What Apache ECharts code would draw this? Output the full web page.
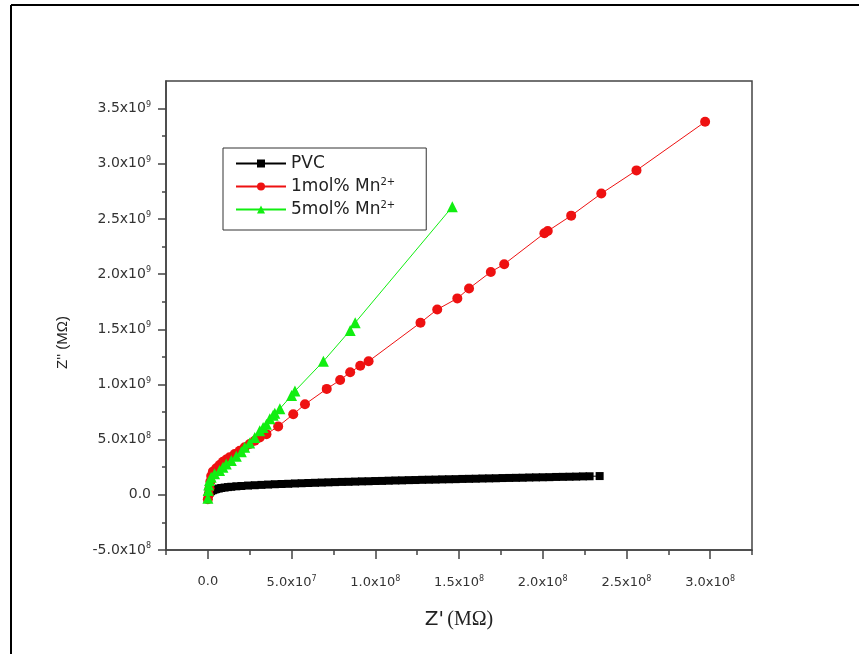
<!DOCTYPE html>
<html>
<head>
<meta charset="utf-8">
<script src="https://cdn.jsdelivr.net/npm/echarts@6/dist/echarts.min.js"></script>
<style>html,body{margin:0;padding:0;background:#fff;}#c{width:859px;height:654px;}</style>
</head>
<body>
<div id="c"></div>
<script>
// ---- data (x in units of 1e7 Ω, y in units of 1e8 Ω) ----
const X_UNIT = 1e7;
const Y_UNIT = 1e8;
const seriesNames = ['PVC', '1mol% Mn2+', '5mol% Mn2+'];

const pvcX = [0, 0.02, 0.05, 0.1, 0.15, 0.2, 0.3, 0.4, 0.5, 0.65, 0.8, 1.0, 1.2, 1.4, 1.7, 2.0, 2.4, 2.8, 3.2, 3.6,
  4.0, 4.4, 4.8, 5.2, 5.6, 6.0, 6.4, 6.8, 7.2, 7.6, 8.0, 8.4, 8.8, 9.2, 9.6, 10.0, 10.4, 10.8, 11.2, 11.6,
  12.0, 12.4, 12.8, 13.2, 13.6, 14.0, 14.4, 14.8, 15.2, 15.6, 16.0, 16.4, 16.8, 17.2, 17.6, 18.0, 18.4, 18.8, 19.2, 19.6,
  20.0, 20.4, 20.8, 21.2, 21.6, 22.0, 22.4, 22.8, 23.4];
const pvcY = [-0.3, -0.1, 0.1, 0.2, 0.3, 0.35, 0.42, 0.48, 0.52, 0.57, 0.62, 0.66, 0.70, 0.73, 0.77, 0.80, 0.84, 0.87, 0.90, 0.93,
  0.96, 0.98, 1.00, 1.03, 1.05, 1.07, 1.09, 1.11, 1.13, 1.15, 1.17, 1.18, 1.20, 1.22, 1.23, 1.25, 1.26, 1.28, 1.30, 1.31,
  1.33, 1.34, 1.36, 1.37, 1.38, 1.40, 1.41, 1.42, 1.44, 1.45, 1.46, 1.48, 1.49, 1.50, 1.52, 1.53, 1.54, 1.55, 1.57, 1.58,
  1.59, 1.60, 1.62, 1.63, 1.64, 1.65, 1.67, 1.68, 1.70];

const mn1X = [0, 0.05, 0.1, 0.15, 0.2, 0.3, 0.5, 0.7, 0.9, 1.1, 1.3, 1.6, 1.9, 2.2, 2.5, 2.8, 3.1, 3.5, 4.2, 5.1,
  5.8, 7.1, 7.9, 8.5, 9.1, 9.6, 12.7, 13.7, 14.9, 15.6, 16.9, 17.7, 20.1, 20.3, 21.7, 23.5, 25.6, 29.7];
const mn1Y = [-0.4, 0.0, 0.6, 1.2, 1.7, 2.1, 2.4, 2.7, 3.0, 3.2, 3.4, 3.7, 4.0, 4.3, 4.6, 4.9, 5.2, 5.5, 6.2, 7.3,
  8.2, 9.6, 10.4, 11.1, 11.7, 12.1, 15.6, 16.8, 17.8, 18.7, 20.2, 20.9, 23.7, 23.9, 25.3, 27.3, 29.4, 33.8];

const mn5X = [0, 0.02, 0.05, 0.1, 0.2, 0.4, 0.7, 0.9, 1.1, 1.4, 1.7, 2.0, 2.2, 2.5, 2.8, 3.1, 3.3, 3.5, 3.7, 3.9,
  4.0, 4.3, 5.0, 5.2, 6.9, 8.5, 8.8, 14.6];
const mn5Y = [-0.3, 0.4, 0.9, 1.3, 1.6, 1.9, 2.2, 2.5, 2.8, 3.1, 3.5, 3.9, 4.3, 4.7, 5.2, 5.8, 6.1, 6.4, 6.9, 7.2,
  7.4, 7.8, 9.0, 9.4, 12.1, 14.9, 15.6, 26.1];

// ---- axis ticks & labels ----
const xTicks = [0, 5e7, 1e8, 1.5e8, 2e8, 2.5e8, 3e8];
const xTickLabels = ['0.0', '{b|5.0x10}{s|7}', '{b|1.0x10}{s|8}', '{b|1.5x10}{s|8}', '{b|2.0x10}{s|8}', '{b|2.5x10}{s|8}', '{b|3.0x10}{s|8}'];
const yTicks = [-5e8, 0, 5e8, 1e9, 1.5e9, 2e9, 2.5e9, 3e9, 3.5e9];
const yTickLabels = ['{b|-5.0x10}{s|8}', '0.0', '{b|5.0x10}{s|8}', '{b|1.0x10}{s|9}', '{b|1.5x10}{s|9}', '{b|2.0x10}{s|9}', '{b|2.5x10}{s|9}', '{b|3.0x10}{s|9}', '{b|3.5x10}{s|9}'];

const X_MIN = -2.5e7, X_MAX = 3.25e8, X_STEP = 5e7;
const Y_MIN = -5e8, Y_MAX = 3.75e9, Y_STEP = 5e8;

function pairs(xs, ys) { return xs.map((x, i) => [x * X_UNIT, ys[i] * Y_UNIT]); }

const FONT = 'DejaVu Sans, Arial, sans-serif';
const LBL = '#333';
function richLbl(size) {
  return {
    b: { fontSize: size, fontFamily: FONT, color: LBL },
    s: { fontSize: Math.round(size * 0.6), fontFamily: FONT, color: LBL, verticalAlign: 'top', padding: [0, 0, 8, 0] }
  };
}
const axisLineStyle = { color: '#444', width: 1.5 };

const chart = echarts.init(document.getElementById('c'), null, { renderer: 'canvas' });
chart.setOption({
  backgroundColor: '#fff',
  animation: false,
  graphic: [
    { type: 'line', shape: { x1: 11, y1: 5, x2: 859, y2: 5 }, style: { stroke: '#000', lineWidth: 2 } },
    { type: 'line', shape: { x1: 11, y1: 5, x2: 11, y2: 654 }, style: { stroke: '#000', lineWidth: 2 } }
  ],
  grid: { left: 166, right: 107, top: 81, bottom: 104, show: true, borderColor: '#444', borderWidth: 1.5, backgroundColor: '#fff' },
  legend: {
    orient: 'vertical', left: 223, top: 148,
    borderColor: '#333', borderWidth: 1, backgroundColor: '#fff',
    padding: [7, 31, 12, 12], itemGap: 5, itemWidth: 50, itemHeight: 10, itemTextGap: 5,
    data: seriesNames,
    formatter: function (n) {
      if (n === 'PVC') return '{t|PVC}';
      const parts = n.split(' Mn');
      return '{t|' + parts[0] + ' Mn}{s|2+}';
    },
    textStyle: {
      rich: {
        t: { fontSize: 17, fontFamily: FONT, color: '#222', lineHeight: 19 },
        s: { fontSize: 10, fontFamily: FONT, color: '#222', verticalAlign: 'top', padding: [0, 0, 8, 0] }
      }
    }
  },
  xAxis: {
    // ticks counted from min: -2.5e7, 2.5e7, ... are the short (minor-looking) ticks;
    // the halfway minor ticks fall on 0, 5e7, ... and are drawn long as the labelled ones
    type: 'value', min: X_MIN, max: X_MAX, interval: X_STEP, position: 'bottom',
    name: "{a|Z'} {b|(MΩ)}", nameLocation: 'middle', nameGap: 60,
    nameTextStyle: { rich: { a: { fontSize: 20, fontFamily: FONT, color: '#222' }, b: { fontSize: 20, fontFamily: 'Liberation Serif, serif', color: '#222' } } },
    axisLine: { show: true, onZero: false, lineStyle: axisLineStyle },
    axisTick: { show: true, inside: false, length: 5, lineStyle: axisLineStyle },
    minorTick: { show: true, splitNumber: 2, length: 9, lineStyle: axisLineStyle },
    axisLabel: { show: true, margin: 25, customValues: xTicks, rich: richLbl(13), color: LBL, fontSize: 13, fontFamily: FONT,
      formatter: v => { const i = xTicks.indexOf(v); return i >= 0 ? xTickLabels[i] : ''; } },
    splitLine: { show: false }, minorSplitLine: { show: false }
  },
  yAxis: {
    type: 'value', min: Y_MIN, max: Y_MAX, interval: Y_STEP, position: 'left',
    name: "Z'' (MΩ)", nameLocation: 'middle', nameGap: 96, nameRotate: 90,
    nameTextStyle: { fontSize: 15, fontFamily: 'Liberation Sans, Arial, sans-serif', color: '#222', padding: [0, 54, 0, 0] },
    axisLine: { show: true, onZero: false, lineStyle: axisLineStyle },
    axisTick: { show: true, inside: false, length: 8, customValues: yTicks, lineStyle: axisLineStyle },
    minorTick: { show: true, splitNumber: 2, length: 4, lineStyle: axisLineStyle },
    axisLabel: { show: true, margin: 15, customValues: yTicks, rich: richLbl(14), color: LBL, fontSize: 14, fontFamily: FONT,
      formatter: v => { const i = yTicks.indexOf(v); return i >= 0 ? yTickLabels[i] : ''; } },
    splitLine: { show: false }, minorSplitLine: { show: false }
  },
  series: [
    { name: seriesNames[0], type: 'line', data: pairs(pvcX, pvcY),
      symbol: 'rect', symbolSize: 8, itemStyle: { color: '#000' }, lineStyle: { color: '#000', width: 1 } },
    { name: seriesNames[1], type: 'line', data: pairs(mn1X, mn1Y),
      symbol: 'circle', symbolSize: 10, itemStyle: { color: '#ee1111' }, lineStyle: { color: '#ee1111', width: 1 } },
    { name: seriesNames[2], type: 'line', data: pairs(mn5X, mn5Y),
      symbol: 'triangle', symbolSize: 11, itemStyle: { color: '#11ee11' }, lineStyle: { color: '#11ee11', width: 1 } }
  ]
});
</script>
</body>
</html>
